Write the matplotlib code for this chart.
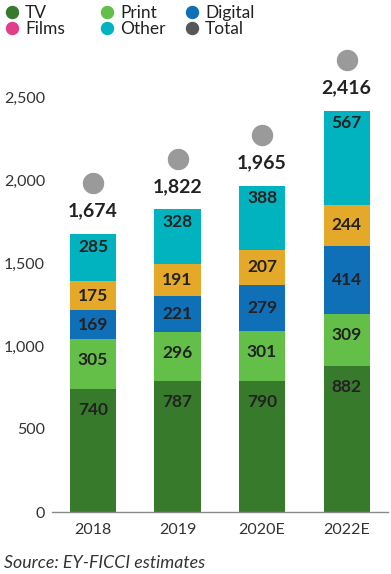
import matplotlib
matplotlib.use("Agg")
import matplotlib.pyplot as plt
from matplotlib.lines import Line2D
from matplotlib.transforms import offset_copy
import numpy as np

categories = ["2018", "2019", "2020E", "2022E"]
series_names = ["TV", "Print", "Digital", "Films", "Other"]
tv = [740, 787, 790, 882]
print_ = [305, 296, 301, 309]
digital = [169, 221, 279, 414]
films = [175, 191, 207, 244]
other = [285, 328, 388, 567]
totals = [1674, 1822, 1965, 2416]
yticks = [0, 500, 1000, 1500, 2000, 2500]

series_values = [tv, print_, digital, films, other]
bar_colors = ["#377a2c", "#63bf47", "#0f6fb7", "#e5a92a", "#00b3bf"]
legend_names = ["TV", "Print", "Digital", "Films", "Other", "Total"]
legend_colors = ["#377a2c", "#63bf47", "#0f6fb7", "#e0408a", "#00b3bf", "#575757"]
label_offset_px = [21, 21, None, None, 12.5]

plt.rcParams['font.family'] = ['Lato', 'DejaVu Sans']
DPI = 100
fig = plt.figure(figsize=(3.91, 5.74), dpi=DPI)
ax = fig.add_axes([52/391, 62/574, (388-52)/391, (512-50)/574])

x = np.arange(len(categories))
bottom = np.zeros(len(categories))
for vals, col, off in zip(series_values, bar_colors, label_offset_px):
    vals = np.array(vals, dtype=float)
    ax.bar(x, vals, bottom=bottom, width=0.545, color=col, edgecolor='none', zorder=2)
    for xi, b, v in zip(x, bottom, vals):
        if off is None:
            ax.text(xi, b + v/2, f"{int(v)}", ha='center', va='center',
                    fontsize=12.5, fontweight='bold', color='#222222', zorder=3)
        else:
            ax.annotate(f"{int(v)}", (xi, b + v), xytext=(0, -off*72/DPI),
                        textcoords='offset points', ha='center', va='center',
                        fontsize=12.5, fontweight='bold', color='#222222', zorder=3)
    bottom += vals

for xi, t in zip(x, totals):
    ax.annotate(f"{t:,}", (xi, t), xytext=(0, 23*72/DPI), textcoords='offset points',
                ha='center', va='center', fontsize=14, fontweight='bold', color='#222222')
tr = offset_copy(ax.transData, fig=fig, x=0, y=51*72/DPI, units='points')
ax.plot(x, totals, linestyle='none', marker='o', markersize=20*72/DPI,
        color='#9a9a9a', transform=tr, clip_on=False)

ax.set_xlim(-0.485, 3.49)
ax.set_ylim(0, (512-50)/0.166)
ax.set_xticks(x)
ax.set_xticklabels(categories)
ax.set_yticks(yticks)
ax.set_yticklabels([f"{v:,}" for v in yticks])
ax.tick_params(axis='both', length=0, labelsize=11.5, colors='#333333')
ax.tick_params(axis='x', pad=8)
ax.tick_params(axis='y', pad=5)
for s in ['top', 'right', 'left']:
    ax.spines[s].set_visible(False)
ax.spines['bottom'].set_color('#8a8a8a')
ax.spines['bottom'].set_linewidth(1)

# legend
leg_cols_x = [12, 107, 192]
leg_rows_y = [12, 28]
order = [[0, 1, 2], [3, 4, 5]]
for r, row in enumerate(order):
    for c, idx in enumerate(row):
        fx = leg_cols_x[c] / 391
        fy = 1 - leg_rows_y[r] / 574
        fig.add_artist(Line2D([fx], [fy], marker='o', markersize=12*72/DPI,
                              color=legend_colors[idx], linestyle='none',
                              transform=fig.transFigure))
        fig.text(fx + 13/391, fy - 1/574, legend_names[idx], ha='left', va='center',
                 fontsize=12.5, color='#222222')

fig.text(4/391, 1 - 563/574, "Source: EY-FICCI estimates", ha='left', va='center',
         fontsize=12.8, style='italic', color='#333333')

fig.savefig("out.png", dpi=DPI)
